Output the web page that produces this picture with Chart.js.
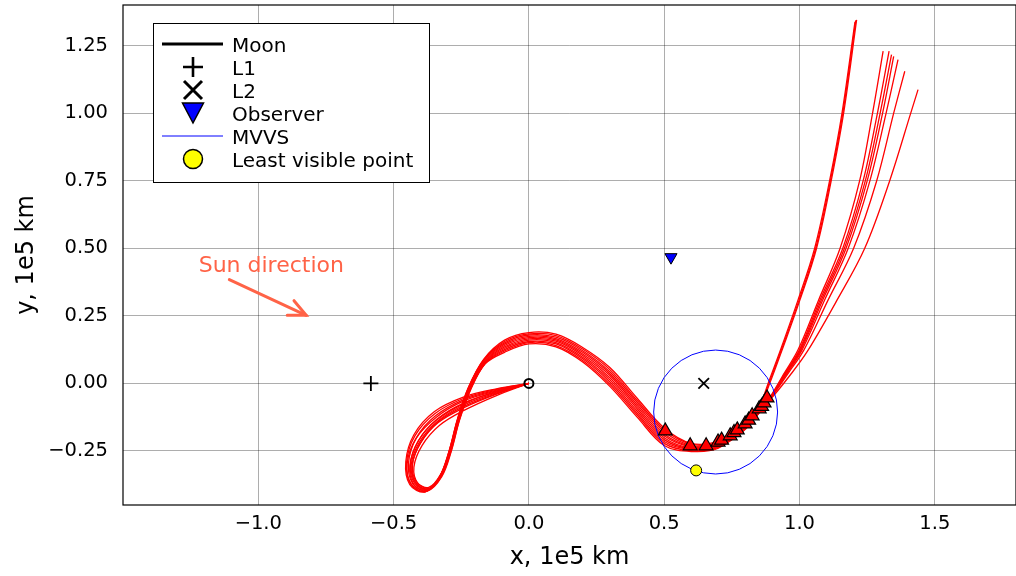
<!DOCTYPE html>
<html>
<head>
<meta charset="utf-8">
<script src="https://cdn.jsdelivr.net/npm/chart.js@4.4.1/dist/chart.umd.min.js"></script>
<style>
  html, body { margin: 0; padding: 0; background: #fff; }
  #wrap { width: 1016px; height: 576px; }
</style>
</head>
<body>
<div id="wrap"><canvas id="chart" width="1016" height="576"></canvas></div>
<script>
// values in units of 1e5 km
const xTicks = [-1.0, -0.5, 0.0, 0.5, 1.0, 1.5];
const xTickLabels = ['−1.0', '−0.5', '0.0', '0.5', '1.0', '1.5'];
const yTicks = [-0.25, 0.0, 0.25, 0.5, 0.75, 1.0, 1.25];
const yTickLabels = ['−0.25', '0.00', '0.25', '0.50', '0.75', '1.00', '1.25'];

const moon = [0, 0];
const l1 = [-0.584, 0];
const l2 = [0.646, 0];
const observer = [0.525, 0.467];
const leastVisible = [0.618, -0.322];
const mvvsCenter = [0.690, -0.106];
const mvvsRadius = 0.229;

// red triangles along the trajectories
const markerX = [0.504, 0.596, 0.655, 0.699, 0.712, 0.744, 0.758, 0.770, 0.799, 0.812, 0.825, 0.851, 0.860, 0.869, 0.880];
const markerY = [-0.176, -0.231, -0.231, -0.217, -0.210, -0.194, -0.182, -0.172, -0.150, -0.136, -0.120, -0.094, -0.085, -0.072, -0.054];

// trajectories, [x, y] pairs
const trajH1 = [[0,0],[-0.12,-0.025],[-0.24,-0.06],[-0.345,-0.12],[-0.415,-0.2],[-0.445,-0.295],[-0.43,-0.37],[-0.38,-0.395],[-0.33,-0.345],[-0.295,-0.25],[-0.262,-0.13],[-0.222,-0.015],[-0.165,0.09],[-0.09,0.15],[0,0.179],[0.1,0.171],[0.2,0.12],[0.3,0.042],[0.4,-0.07],[0.5,-0.179],[0.6,-0.229],[0.7,-0.221],[0.8,-0.168],[0.852,-0.09],[0.887,0],[0.935,0.13],[0.998,0.307],[1.06,0.5],[1.114,0.749],[1.16,1.0],[1.208,1.343]];
const trajH2 = [[0,0],[-0.12,-0.04],[-0.24,-0.09],[-0.335,-0.145],[-0.4,-0.22],[-0.43,-0.3],[-0.415,-0.365],[-0.37,-0.385],[-0.325,-0.335],[-0.29,-0.245],[-0.258,-0.128],[-0.218,-0.02],[-0.162,0.078],[-0.09,0.13],[0,0.16],[0.1,0.151],[0.2,0.096],[0.3,0.012],[0.4,-0.102],[0.5,-0.208],[0.6,-0.242],[0.7,-0.232],[0.8,-0.17],[0.85,-0.092],[0.884,0],[0.932,0.13],[0.994,0.307],[1.056,0.5],[1.111,0.749],[1.157,1.0],[1.205,1.338]];
const trajH3 = [[0,0],[-0.12,-0.03],[-0.24,-0.075],[-0.34,-0.135],[-0.41,-0.215],[-0.44,-0.305],[-0.425,-0.375],[-0.375,-0.398],[-0.322,-0.345],[-0.288,-0.255],[-0.256,-0.135],[-0.216,-0.025],[-0.16,0.075],[-0.09,0.12],[0,0.151],[0.1,0.14],[0.2,0.084],[0.3,-0.004],[0.4,-0.117],[0.5,-0.222],[0.6,-0.249],[0.7,-0.237],[0.8,-0.166],[0.854,-0.088],[0.89,0],[0.938,0.13],[1.001,0.307],[1.063,0.5],[1.117,0.749],[1.163,1.0],[1.211,1.345]];
const trajA = [[0,0],[-0.12,-0.02],[-0.24,-0.05],[-0.35,-0.105],[-0.425,-0.19],[-0.455,-0.29],[-0.44,-0.375],[-0.385,-0.402],[-0.333,-0.352],[-0.297,-0.258],[-0.265,-0.135],[-0.225,-0.018],[-0.168,0.088],[-0.09,0.16],[0,0.188],[0.1,0.182],[0.2,0.132],[0.3,0.058],[0.4,-0.055],[0.5,-0.165],[0.6,-0.222],[0.7,-0.215],[0.8,-0.165],[0.875,-0.075],[0.945,0.04],[0.995,0.125],[1.07,0.307],[1.15,0.5],[1.222,0.749],[1.27,1.0],[1.309,1.229]];
const trajB = [[0,0],[-0.12,-0.035],[-0.24,-0.08],[-0.338,-0.14],[-0.405,-0.218],[-0.435,-0.302],[-0.418,-0.368],[-0.372,-0.39],[-0.326,-0.34],[-0.292,-0.25],[-0.26,-0.13],[-0.22,-0.022],[-0.163,0.08],[-0.09,0.135],[0,0.165],[0.1,0.156],[0.2,0.102],[0.3,0.02],[0.4,-0.094],[0.5,-0.201],[0.6,-0.239],[0.7,-0.229],[0.8,-0.163],[0.878,-0.073],[0.948,0.04],[1.0,0.125],[1.075,0.307],[1.16,0.5],[1.235,0.749],[1.288,1.0],[1.331,1.229]];
const trajC = [[0,0],[-0.12,-0.045],[-0.24,-0.1],[-0.33,-0.155],[-0.395,-0.23],[-0.425,-0.31],[-0.41,-0.37],[-0.365,-0.388],[-0.32,-0.338],[-0.287,-0.248],[-0.256,-0.132],[-0.217,-0.024],[-0.161,0.076],[-0.09,0.125],[0,0.155],[0.1,0.146],[0.2,0.09],[0.3,0.004],[0.4,-0.11],[0.5,-0.215],[0.6,-0.245],[0.7,-0.235],[0.8,-0.162],[0.88,-0.07],[0.95,0.04],[1.003,0.125],[1.08,0.307],[1.166,0.5],[1.243,0.749],[1.298,1.0],[1.34,1.216]];
const trajD = [[0,0],[-0.12,-0.028],[-0.24,-0.065],[-0.342,-0.125],[-0.418,-0.205],[-0.45,-0.297],[-0.435,-0.372],[-0.382,-0.4],[-0.33,-0.35],[-0.294,-0.256],[-0.262,-0.133],[-0.222,-0.02],[-0.166,0.084],[-0.09,0.145],[0,0.174],[0.1,0.166],[0.2,0.114],[0.3,0.035],[0.4,-0.078],[0.5,-0.187],[0.6,-0.232],[0.7,-0.224],[0.8,-0.16],[0.882,-0.068],[0.953,0.04],[1.006,0.125],[1.085,0.307],[1.172,0.5],[1.25,0.749],[1.307,1.0],[1.348,1.21]];
const trajE = [[0,0],[-0.12,-0.038],[-0.24,-0.085],[-0.336,-0.142],[-0.402,-0.222],[-0.432,-0.306],[-0.416,-0.372],[-0.37,-0.392],[-0.324,-0.342],[-0.29,-0.252],[-0.258,-0.134],[-0.219,-0.026],[-0.162,0.072],[-0.09,0.115],[0,0.146],[0.1,0.135],[0.2,0.078],[0.3,-0.012],[0.4,-0.125],[0.5,-0.23],[0.6,-0.252],[0.7,-0.24],[0.8,-0.16],[0.884,-0.066],[0.956,0.04],[1.01,0.125],[1.092,0.307],[1.18,0.5],[1.26,0.749],[1.32,1.0],[1.364,1.198]];
const trajF = [[0,0],[-0.12,-0.022],[-0.24,-0.055],[-0.348,-0.112],[-0.422,-0.195],[-0.452,-0.292],[-0.437,-0.373],[-0.383,-0.401],[-0.331,-0.35],[-0.296,-0.257],[-0.264,-0.134],[-0.224,-0.017],[-0.167,0.086],[-0.09,0.155],[0,0.183],[0.1,0.177],[0.2,0.126],[0.3,0.05],[0.4,-0.063],[0.5,-0.172],[0.6,-0.225],[0.7,-0.218],[0.8,-0.158],[0.886,-0.064],[0.96,0.04],[1.017,0.125],[1.105,0.307],[1.2,0.5],[1.285,0.749],[1.348,1.0],[1.389,1.155]];
const trajG = [[0,0],[-0.12,-0.032],[-0.24,-0.072],[-0.34,-0.133],[-0.408,-0.212],[-0.438,-0.3],[-0.422,-0.37],[-0.374,-0.394],[-0.327,-0.344],[-0.293,-0.253],[-0.26,-0.131],[-0.22,-0.021],[-0.164,0.082],[-0.09,0.14],[0,0.169],[0.1,0.161],[0.2,0.108],[0.3,0.028],[0.4,-0.086],[0.5,-0.194],[0.6,-0.235],[0.7,-0.227],[0.8,-0.156],[0.89,-0.062],[0.965,0.03],[1.03,0.12],[1.138,0.307],[1.241,0.5],[1.333,0.749],[1.411,1.0],[1.438,1.087]];
const trajectories = [trajH1, trajH2, trajH3, trajA, trajB, trajC, trajD, trajE, trajF, trajG];

// "Sun direction" annotation (data coords)
const sunLabel = [-0.952, 0.412];
const sunArrowFrom = [-1.107, 0.384];
const sunArrowTo = [-0.823, 0.252];

const FONT = '"DejaVu Sans", sans-serif';
const pt = p => ({ x: p[0], y: p[1] });

const trajSets = trajectories.map(t => ({
  data: t.map(pt),
  showLine: true,
  borderColor: '#ff0000',
  borderWidth: 1.3,
  pointRadius: 0,
  tension: 0.35,
  fill: false
}));

// datasets listed top-most first (Chart.js draws index 0 last)
const datasets = [
  { data: [pt(leastVisible)], pointStyle: 'circle', pointRadius: 5.5, backgroundColor: '#ffff00', borderColor: '#000', borderWidth: 1 },
  { data: markerX.map((x, i) => ({ x: x, y: markerY[i] })), pointStyle: 'triangle', pointRadius: 8, backgroundColor: '#ff0000', borderColor: '#000', borderWidth: 1.2 },
  { data: [pt(observer)], pointStyle: 'triangle', rotation: 180, pointRadius: 7, backgroundColor: '#0000ff', borderColor: '#000', borderWidth: 1 },
  { data: [pt(l2)], pointStyle: 'crossRot', pointRadius: 7.5, borderColor: '#000', borderWidth: 1.8 },
  { data: [pt(l1)], pointStyle: 'cross', pointRadius: 7.5, borderColor: '#000', borderWidth: 1.8 },
  { data: [pt(moon)], pointStyle: 'circle', pointRadius: 4.5, backgroundColor: 'rgba(255,255,255,0)', borderColor: '#000', borderWidth: 2 },
  ...trajSets
];

// legend rows drawn by hand to match the box
const legendRows = [
  { label: 'Moon', kind: 'line', color: '#000', width: 3 },
  { label: 'L1', kind: 'plus' },
  { label: 'L2', kind: 'x' },
  { label: 'Observer', kind: 'down' },
  { label: 'MVVS', kind: 'line', color: '#0000ff', width: 1 },
  { label: 'Least visible point', kind: 'dot' }
];

const overlay = {
  id: 'overlay',
  afterDatasetDraw(chart, args) {
    if (args.index !== 2) return; // MVVS sits under the triangles
    const { ctx, chartArea: a, scales: { x, y } } = chart;
    const cx = x.getPixelForValue(mvvsCenter[0]);
    const cy = y.getPixelForValue(mvvsCenter[1]);
    const r = x.getPixelForValue(mvvsCenter[0] + mvvsRadius) - cx;
    ctx.save();
    ctx.beginPath(); ctx.rect(a.left, a.top, a.right - a.left, a.bottom - a.top); ctx.clip();
    ctx.strokeStyle = '#0000ff'; ctx.lineWidth = 1;
    ctx.beginPath(); ctx.arc(cx, cy, r, 0, Math.PI * 2); ctx.stroke();
    ctx.restore();
  },
  afterDraw(chart) {
    const { ctx, chartArea: a, scales: { x, y } } = chart;
    ctx.save();
    // frame
    ctx.strokeStyle = '#000'; ctx.lineWidth = 1.2;
    ctx.strokeRect(a.left, a.top, a.right - a.left, a.bottom - a.top);

    // sun direction
    const c = '#ff6347';
    ctx.fillStyle = c; ctx.font = '22px ' + FONT;
    ctx.textAlign = 'center'; ctx.textBaseline = 'alphabetic';
    ctx.fillText('Sun direction', x.getPixelForValue(sunLabel[0]), y.getPixelForValue(sunLabel[1]));
    const x0 = x.getPixelForValue(sunArrowFrom[0]), y0 = y.getPixelForValue(sunArrowFrom[1]);
    const x1 = x.getPixelForValue(sunArrowTo[0]), y1 = y.getPixelForValue(sunArrowTo[1]);
    const ang = Math.atan2(y1 - y0, x1 - x0), head = 19, spread = 0.44;
    ctx.strokeStyle = c; ctx.lineWidth = 3; ctx.lineCap = 'round';
    ctx.beginPath(); ctx.moveTo(x0, y0); ctx.lineTo(x1, y1); ctx.stroke();
    ctx.beginPath();
    ctx.moveTo(x1 - head * Math.cos(ang - spread), y1 - head * Math.sin(ang - spread));
    ctx.lineTo(x1, y1);
    ctx.lineTo(x1 - head * Math.cos(ang + spread), y1 - head * Math.sin(ang + spread));
    ctx.stroke();

    // legend
    const lx = 153, ly = 23, lw = 276, lh = 159;
    ctx.lineCap = 'butt';
    ctx.fillStyle = '#fff'; ctx.fillRect(lx, ly, lw, lh);
    ctx.strokeStyle = '#000'; ctx.lineWidth = 1; ctx.strokeRect(lx + 0.5, ly + 0.5, lw, lh);
    const mx = 193;
    legendRows.forEach((row, i) => {
      const ry = 44 + i * 23;
      ctx.strokeStyle = '#000'; ctx.lineWidth = 1;
      if (row.kind === 'line') {
        ctx.strokeStyle = row.color; ctx.lineWidth = row.width;
        ctx.beginPath(); ctx.moveTo(162, ry); ctx.lineTo(223, ry); ctx.stroke();
      } else if (row.kind === 'plus') {
        ctx.lineWidth = 2.6;
        ctx.beginPath(); ctx.moveTo(mx - 10, ry); ctx.lineTo(mx + 10, ry);
        ctx.moveTo(mx, ry - 10); ctx.lineTo(mx, ry + 10); ctx.stroke();
      } else if (row.kind === 'x') {
        ctx.lineWidth = 3;
        ctx.beginPath(); ctx.moveTo(mx - 9, ry - 9); ctx.lineTo(mx + 9, ry + 9);
        ctx.moveTo(mx + 9, ry - 9); ctx.lineTo(mx - 9, ry + 9); ctx.stroke();
      } else if (row.kind === 'down') {
        ctx.fillStyle = '#0000ff'; ctx.lineWidth = 1.5;
        ctx.beginPath(); ctx.moveTo(mx - 10.5, ry - 10); ctx.lineTo(mx + 10.5, ry - 10); ctx.lineTo(mx, ry + 10); ctx.closePath();
        ctx.fill(); ctx.stroke();
      } else if (row.kind === 'dot') {
        ctx.fillStyle = '#ffff00'; ctx.lineWidth = 1.5;
        ctx.beginPath(); ctx.arc(mx, ry, 9.5, 0, Math.PI * 2); ctx.fill(); ctx.stroke();
      }
      ctx.fillStyle = '#000'; ctx.font = '20px ' + FONT;
      ctx.textAlign = 'left'; ctx.textBaseline = 'alphabetic';
      ctx.fillText(row.label, 232, ry + 7.5);
    });
    ctx.restore();
  }
};

const gridColor = 'rgba(0,0,0,0.32)';
const noPad = s => { s.paddingLeft = 0; s.paddingRight = 0; s.paddingTop = 0; s.paddingBottom = 0; };

new Chart(document.getElementById('chart'), {
  type: 'scatter',
  data: { datasets: datasets },
  options: {
    responsive: false,
    devicePixelRatio: 1,
    animation: false,
    events: [],
    layout: { autoPadding: false, padding: { top: 5, right: 0, left: 0, bottom: 0 } },
    plugins: { legend: { display: false }, tooltip: { enabled: false } },
    scales: {
      x: {
        type: 'linear', min: -1.5, max: 1.8,
        afterBuildTicks: s => { s.ticks = xTicks.map(v => ({ value: v })); },
        afterFit: s => { s.height = 71; noPad(s); },
        grid: { color: gridColor, lineWidth: 1, drawTicks: false },
        border: { display: false },
        ticks: {
          padding: 7, color: '#000', font: { family: FONT, size: 19.5 }, maxRotation: 0,
          callback: v => xTickLabels[xTicks.indexOf(v)]
        },
        title: { display: true, text: 'x, 1e5 km', color: '#000', font: { family: FONT, size: 24 }, padding: { top: 0, bottom: 4 } }
      },
      y: {
        type: 'linear', min: -0.45, max: 1.4,
        afterBuildTicks: s => { s.ticks = yTicks.map(v => ({ value: v })); },
        afterFit: s => { s.width = 123; noPad(s); },
        grid: { color: gridColor, lineWidth: 1, drawTicks: false },
        border: { display: false },
        ticks: {
          padding: 15, color: '#000', font: { family: FONT, size: 19.5 },
          callback: v => yTickLabels[yTicks.indexOf(v)]
        },
        title: { display: true, text: 'y, 1e5 km', color: '#000', font: { family: FONT, size: 24 }, padding: { top: 12, bottom: 0 } }
      }
    }
  },
  plugins: [overlay]
});
</script>
</body>
</html>
